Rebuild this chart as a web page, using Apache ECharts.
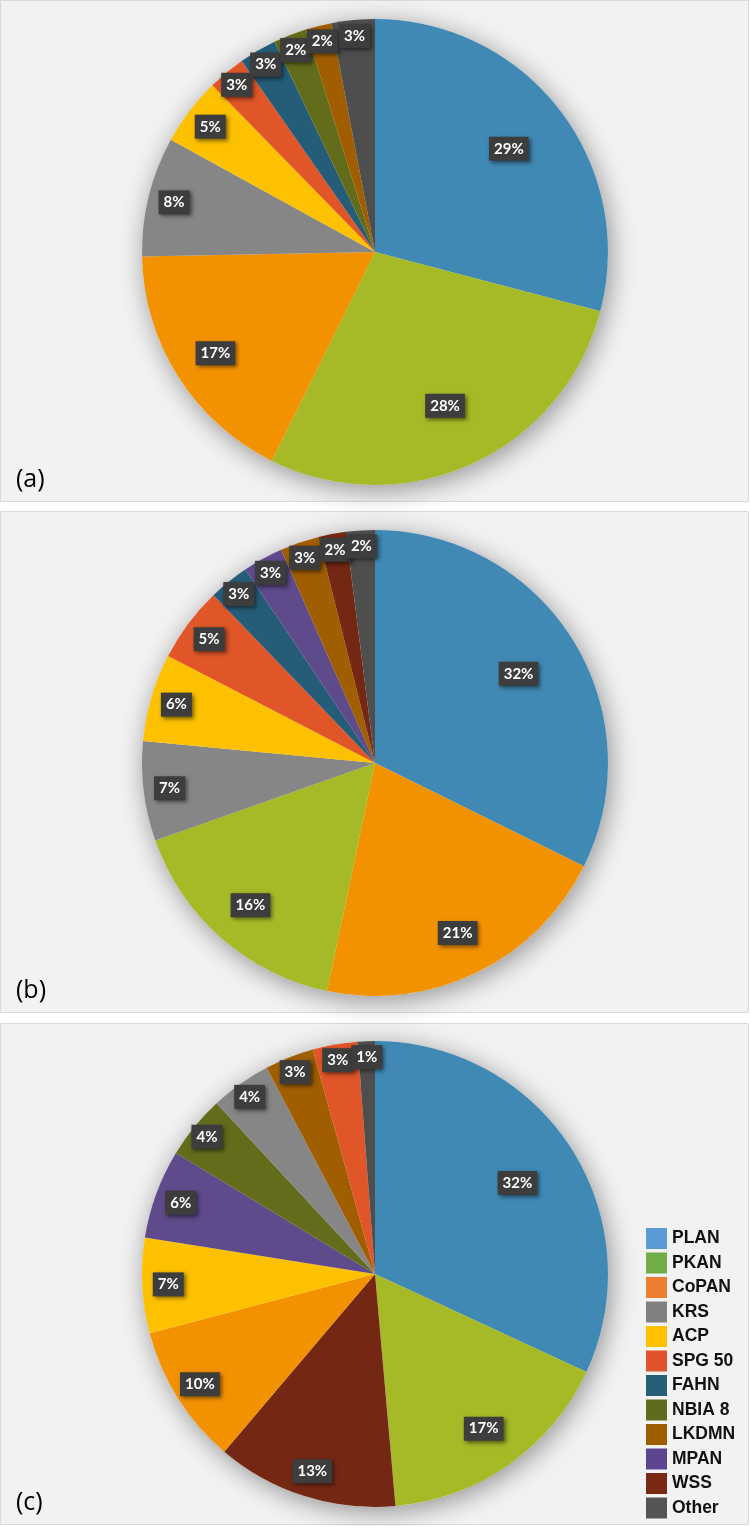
<!DOCTYPE html>
<html>
<head>
<meta charset="utf-8">
<script src="https://cdn.jsdelivr.net/npm/echarts@6/dist/echarts.min.js"></script>
<style>
  html, body { margin: 0; padding: 0; background: #ffffff; }
  #chart { width: 750px; height: 1526px; }
</style>
</head>
<body>
<div id="chart"></div>
<script>
// ---- Data (percent shares) ----
const catsA = ['PLAN', 'PKAN', 'CoPAN', 'KRS', 'ACP', 'SPG 50', 'FAHN', 'NBIA 8', 'LKDMN', 'Other'];
const valsA = [29.1, 28.2, 17.4, 8.3, 4.7, 2.6, 2.6, 2.3, 1.8, 3.0];

const catsB = ['PLAN', 'CoPAN', 'PKAN', 'KRS', 'ACP', 'SPG 50', 'FAHN', 'MPAN', 'LKDMN', 'WSS', 'Other'];
const valsB = [32.3, 21.0, 16.3, 6.9, 6.1, 5.2, 2.8, 2.8, 2.7, 1.9, 2.0];

const catsC = ['PLAN', 'PKAN', 'WSS', 'CoPAN', 'ACP', 'MPAN', 'NBIA 8', 'KRS', 'LKDMN', 'SPG 50', 'Other'];
const valsC = [31.9, 16.7, 12.6, 9.7, 6.6, 6.2, 4.4, 4.2, 3.4, 3.1, 1.2];

const legendNames = ['PLAN', 'PKAN', 'CoPAN', 'KRS', 'ACP', 'SPG 50', 'FAHN', 'NBIA 8', 'LKDMN', 'MPAN', 'WSS', 'Other'];
const panelLabels = ['(a)', '(b)', '(c)'];

// ---- Styles ----
const sliceColor = {
  'PLAN': '#3f89b4', 'PKAN': '#a6b927', 'CoPAN': '#f39200', 'KRS': '#868686',
  'ACP': '#fdc100', 'SPG 50': '#e05628', 'FAHN': '#255c77', 'NBIA 8': '#636c1b',
  'LKDMN': '#a05e00', 'MPAN': '#5f4a8b', 'WSS': '#742814', 'Other': '#4e4e4e'
};
const legendColor = {
  'PLAN': '#5b9bd5', 'PKAN': '#70ad47', 'CoPAN': '#ed7d31', 'KRS': '#808080',
  'ACP': '#ffc000', 'SPG 50': '#e0532b', 'FAHN': '#265e78', 'NBIA 8': '#5f6b1d',
  'LKDMN': '#9e5e00', 'MPAN': '#5c4590', 'WSS': '#7a2a12', 'Other': '#545454'
};

const R = 233;
const centersY = [252, 763, 1274];
const panelTops = [0, 511, 1023];
const panelH = 502;

// label ring radius tiers (Excel "best fit"-like placement)
function tierRadius(v) {
  if (v >= 25) return 166;
  if (v >= 14) return 186;
  if (v >= 4.5) return 204;
  return 214;
}
const tierList = [166, 186, 204, 214];

const labelStyle = {
  position: 'inside',
  formatter: p => Math.round(p.percent) + '%',
  color: '#ffffff',
  fontFamily: 'Lato',
  fontWeight: 'bold',
  fontSize: 15,
  lineHeight: 15,
  backgroundColor: '#3d3d3d',
  padding: [5, 5, 4, 5],
  shadowColor: 'rgba(0,0,0,0.5)',
  shadowBlur: 4,
  shadowOffsetX: 2,
  shadowOffsetY: 2
};

function buildSeries(cats, vals, cy) {
  const center = [375, cy];
  const total = vals.reduce((a, b) => a + b, 0);
  const out = [];
  // shadow disc under the pie
  out.push({
    type: 'pie', center, radius: R, silent: true, animation: false, z: 1,
    data: [{ name: '_disc', value: total }],
    label: { show: false }, labelLine: { show: false },
    itemStyle: { color: '#eeeeee', shadowBlur: 26, shadowOffsetX: 3, shadowOffsetY: 5, shadowColor: 'rgba(0,0,0,0.4)' }
  });
  // main pie
  out.push({
    type: 'pie', center, radius: R, startAngle: 90, clockwise: true, animation: false, z: 2,
    avoidLabelOverlap: false,
    data: cats.map((n, i) => ({ name: n, value: vals[i], itemStyle: { color: sliceColor[n] } })),
    label: { show: false }, labelLine: { show: false },
    emphasis: { disabled: true }
  });
  // label rings
  tierList.forEach(r => {
    out.push({
      type: 'pie', center, radius: [r - 8, r + 8], startAngle: 90, clockwise: true,
      animation: false, silent: true, z: 3, avoidLabelOverlap: false,
      labelLayout: { hideOverlap: false },
      data: cats.map((n, i) => ({ name: n, value: vals[i], label: { show: tierRadius(vals[i]) === r } })),
      itemStyle: { color: 'rgba(0,0,0,0)' },
      label: labelStyle, labelLine: { show: false },
      emphasis: { disabled: true }
    });
  });
  return out;
}

const series = [
  ...buildSeries(catsA, valsA, centersY[0]),
  ...buildSeries(catsB, valsB, centersY[1]),
  ...buildSeries(catsC, valsC, centersY[2])
];

const graphic = [];
panelTops.forEach((t, i) => {
  graphic.push({
    type: 'rect', z: 0, silent: true,
    shape: { x: 0.5, y: t + 0.5, width: 748, height: panelH - 1 },
    style: { fill: '#f2f2f2', stroke: '#d9d9d9', lineWidth: 1 }
  });
  graphic.push({
    type: 'text', z: 0, silent: true, x: 16, y: t + 480,
    style: { text: panelLabels[i], fontFamily: 'Open Sans', fontSize: 25, fill: '#000000', verticalAlign: 'middle', align: 'left' }
  });
});

const chart = echarts.init(document.getElementById('chart'), null, { renderer: 'canvas' });
chart.setOption({
  backgroundColor: '#ffffff',
  animation: false,
  graphic,
  legend: {
    orient: 'vertical', left: 641, top: 1223,
    itemWidth: 21, itemHeight: 21, itemGap: 3.5, icon: 'rect',
    selectedMode: false,
    data: legendNames.map(n => ({ name: n, itemStyle: { color: legendColor[n], borderWidth: 0 } })),
    textStyle: { fontFamily: 'Liberation Sans', fontWeight: 'bold', fontSize: 17.5, color: '#111111' }
  },
  series
});
</script>
</body>
</html>
